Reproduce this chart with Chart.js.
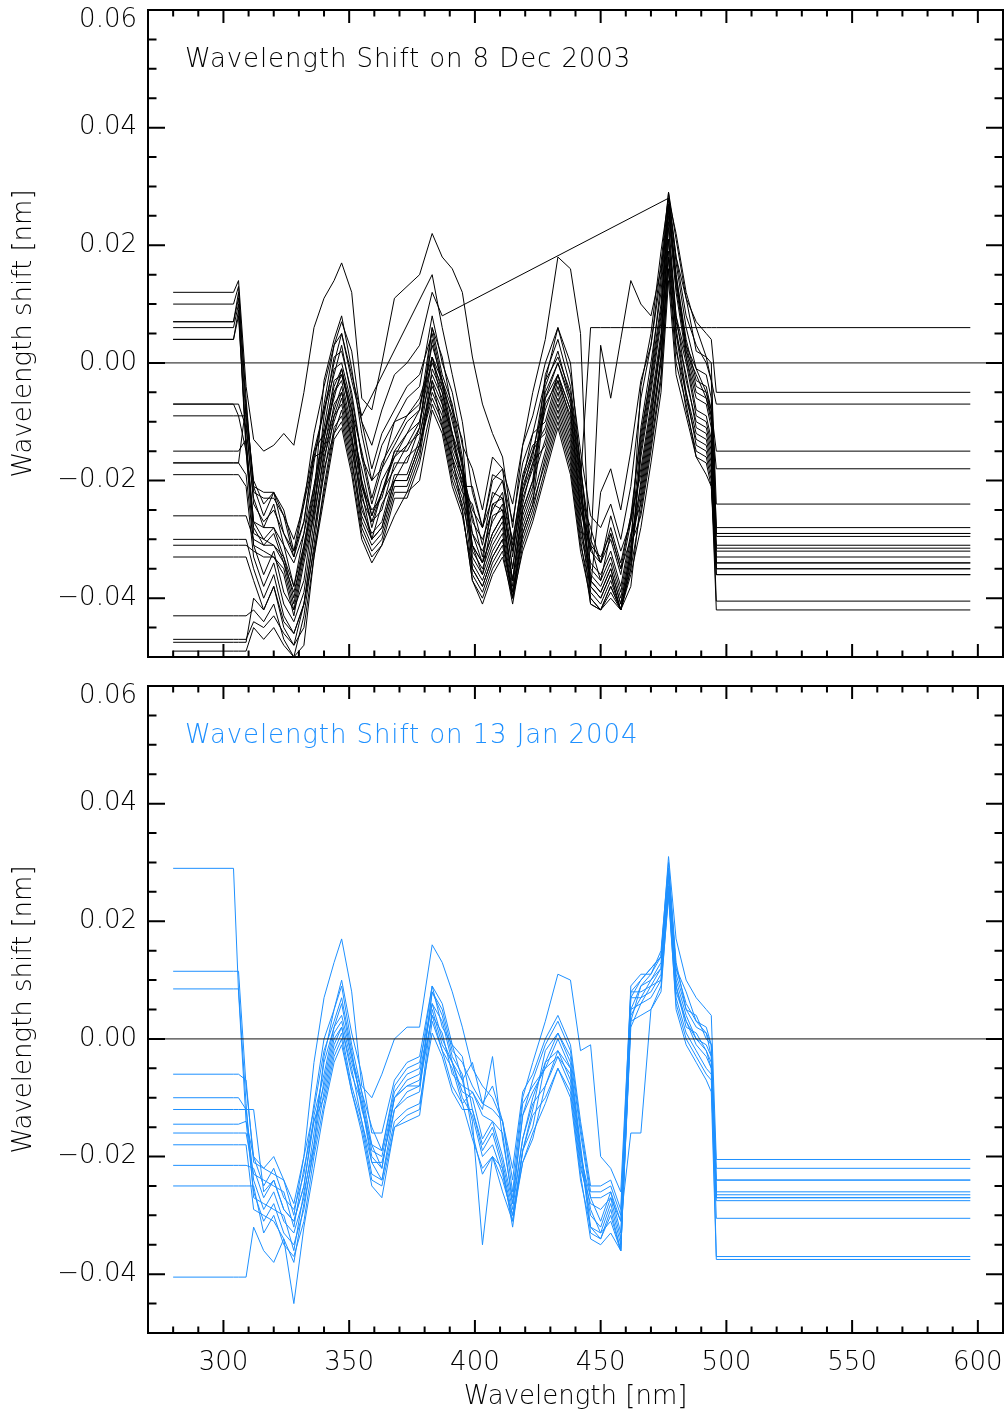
<!DOCTYPE html>
<html lang="en">
  <head>
    <meta charset="UTF-8" />
    <title>Wavelength Shift</title>
    <script src="https://cdn.jsdelivr.net/npm/chart.js"></script>
    <style>
      body { margin: 0; background: #fff; }
      canvas { position: absolute; left: 0; }
      #decChart { top: 0; }
      #janChart { top: 676px; }
    </style>
  </head>
  <body>
    <canvas id="decChart" width="1006" height="667"></canvas>
    <canvas id="janChart" width="1006" height="742"></canvas>
    <script>
      // shifts are in pm (1 pm = 0.001 nm); the axis labels show nm
      const flatStartNm = 280;
      const flatEndNm = 597;
      const rightFlatFromNm = 496;
      const gridNm = [304, 306, 309, 312, 316, 320, 324, 328, 332, 336, 340, 344, 347, 351, 355, 359, 363, 368, 373, 378, 383, 387, 391, 395, 399, 403, 407, 411, 415, 419, 423, 428, 433, 438, 442, 446, 450, 454, 458, 462, 466, 470, 474, 477, 480, 484, 488, 492, 494];

      // 8 Dec 2003 (first value = level of the flat part on the left)
      const decProfiles = [
        [12,14,-4,-13,-15,-14,-12,-14,-5,6,11,14,17,12,-6,-8,0,11,13,15,22,18,16,12,1,-7,-12,-16,-28,-14,-5,4,18,16,5,-38,-22,-18,-25,-15,-3,3,17,29,21,11,7,5,4],
        [10,13,-8,-20,-24,-22,-26,-30,-24,-12,-4,3,7,2,-10,-14,-8,-2,0,3,12,8,null,null,null,null,null,null,null,null,null,null,null,null,null,null,null,null,null,null,null,null,null,28,18,8,3,0,-3],
        [7,11,-10,-24,-27,-25,-29,-33,-27,-16,-8,0,5,-2,-9,null,null,null,null,null,15,6,-2,-10,-22,-28,-20,-18,-32,-20,-12,-3,6,0,-18,-30,-34,-28,-34,-26,-12,-2,14,27,15,3,-1,-5,-8],
        [6,10,-14,-27,-30,-28,-33,-38,-31,-21,-12,-4,-1,-8,-20,-26,-22,-15,-12,-8,3,-3,-10,-17,-29,-34,-24,-23,-35,-22,-15,-6,0,-6,-20,6,6,6,6,6,6,6,6,6,6,6,6,6,6],
        [4,9,-15,-28,-31,-29,-34,-39,-32,-22,-13,-5,-2,-9,-21,-27,-22,-16,-14,-10,1,-5,-12,-19,-31,-36,-26,-25,-37,-24,-17,-8,-2,-8,-25,-32,3,-6,4,14,10,8,16,26,14,2,-2,-6,-9],
        [4,8,-13,-29,-30,-31,-33,-40,-31,-23,-3,4,8,-1,-12,-20,-14,-10,-6,-4,8,0,-5,-14,-18,-25,-16,-18,-24,-14,-9,0,6,-2,-15,-26,-28,-24,-30,-21,-6,3,15,29,18,11,2,1,-3],
        [-7,-7,-11,-23,-28,-24,-31,-34,-29,-17,-7,3,5,-3,-10,-18,-12,-8,-4,-2,5,-3,-8,-17,-27,-30,-25,-22,-33,-21,-16,-3,1,-5,-18,-32,-34,-30,-36,-27,-11,0,12,28,17,6,-1,-2,-6],
        [-7,-9,-15,-31,-32,-33,-35,-42,-33,-25,-9,1,2,-5,-16,-24,-18,-14,-10,-8,6,1,-8,-13,-33,-36,-31,-28,-39,-27,-22,-5,0,-7,-20,-37,-39,-35,-41,-32,-4,5,19,28,22,12,6,1,0],
        [-9,-9,-9,-21,-26,-22,-29,-32,-27,-15,-8,-2,3,-6,-16,-20,-18,-10,-9,-6,1,-7,-12,-21,-21,-28,-19,-20,-27,-17,-12,-10,-2,-10,-23,-28,-34,-26,-32,-27,-18,-7,5,24,8,1,-8,-9,-13],
        [-15,-15,-13,-27,-28,-28,-31,-38,-29,-21,-11,-1,0,-7,-21,-25,-23,-15,-15,-11,4,-4,-9,-18,-31,-34,-29,-26,-37,-25,-20,-2,4,-4,-17,-35,-37,-33,-39,-30,-13,-2,10,27,15,4,-3,-4,-8],
        [-17,-17,-19,-31,-36,-32,-39,-42,-37,-25,-13,-3,-2,-8,-15,-23,-17,-13,-9,-7,0,-4,-13,-19,-25,-28,-23,-20,-31,-19,-14,-12,-4,-12,-25,-31,-37,-29,-35,-30,-21,-10,4,21,5,-2,-11,-12,-16],
        [-17,-17,-7,-21,-22,-22,-25,-32,-23,-15,-12,-6,-1,-10,-23,-27,-25,-17,-17,-11,6,-2,-7,-16,-35,-38,-33,-30,-40,-29,-24,-6,-2,-8,-21,-38,-40,-36,-42,-33,-15,-4,8,26,13,2,-5,-6,-10],
        [-19,-19,-21,-33,-38,-34,-41,-44,-39,-27,-15,-5,-3,-11,-18,-26,-20,-16,-12,-10,-2,-6,-15,-20,-26,-33,-24,-25,-32,-22,-17,-14,-6,-14,-27,-34,-36,-32,-38,-29,-24,-13,1,18,2,-5,-14,-15,-19],
        [-26,-26,-26,-30,-31,-31,-34,-41,-32,-24,-14,-8,-4,-12,-25,-29,-27,-19,-19,-13,1,-3,-12,-17,-32,-35,-30,-27,-38,-26,-21,-4,2,-6,-19,-39,-41,-37,-42,-34,-16,-5,7,25,12,1,-6,-7,-11],
        [-30,-30,-30,-35,-40,-36,-43,-46,-41,-29,-17,-7,-5,-13,-20,-28,-22,-18,-14,-12,-4,-8,-17,-22,-24,-31,-22,-23,-30,-20,-15,-11,-3,-11,-24,-31,-33,-29,-35,-26,-19,-8,4,23,7,0,-9,-10,-14],
        [-31,-31,-31,-32,-33,-33,-36,-43,-34,-26,-16,-10,-6,-14,-27,-31,-29,-21,-21,-15,-1,-5,-14,-19,-34,-37,-32,-29,-40,-28,-23,-15,-7,-15,-28,-36,-38,-34,-40,-31,-26,-15,-3,16,0,-7,-16,-17,-21],
        [-33,-33,-33,-37,-42,-38,-45,-48,-41,-29,-19,-9,-7,-15,-22,-30,-24,-20,-16,-14,-5,-9,-18,-23,-29,-32,-27,-24,-35,-23,-18,-7,-3,-9,-22,-40,-42,-38,-42,-35,-14,-3,9,27,14,3,-4,-5,-9],
        [-43,-43,-43,-42,-44,-41,-47,-50,-43,-31,-18,-12,-8,-16,-28,-32,-30,-22,-22,-16,-3,-7,-16,-21,-36,-39,-34,-31,-40,-30,-25,-16,-8,-16,-29,-37,-39,-35,-41,-32,-22,-11,1,19,6,-5,-12,-13,-17],
        [-47,-47,-47,-44,-45,-43,-46,-48,-45,-33,-21,-11,-9,-17,-26,-30,-28,-20,-20,-14,-6,-10,-19,-24,-31,-34,-29,-26,-37,-25,-20,-13,-5,-13,-26,-41,-42,-39,-42,-36,-28,-17,-5,14,-2,-9,-16,-19,-21],
        [-47.5,-47.5,-47.5,-40,-42,-38,-44,-46,-41,-32,-22,-12,-10,-18,-29,-33,-31,-23,-23,-17,-7,-11,-20,-25,-37,-40,-35,-32,-41,-31,-26,-18,-10,-18,-31,-38,-40,-36,-42,-33,-20,-9,3,21,8,-3,-10,-11,-15],
        [-49,-49,-49,-45,-47,-45,-48,-50,-48,-33,-23,-13,-11,-19,-30,-34,-31,-26,-22,-20,-8,-12,-21,-26,-35,-38,-33,-30,-39,-29,-24,-17,-9,-17,-30,-41,-42,-40,-42,-38,-23,-12,0,18,5,-6,-13,-14,-18],
        [7,12,-6,-22,-23,-23,-26,-33,-24,-16,-15,-9,-5,-13,-24,-30,-28,-20,-20,-14,-3,-11,-16,-25,-37,-41,-36,-33,-40,-32,-27,-19,-11,-19,-32,-40,-42,-38,-42,-35,-25,-14,-2,16,3,-8,-15,-16,-20]
      ];
      const decRightLevels = [-5, -7, -15, 6, -18, -24, -28, -29, -29, -29.5, -31, -31.5, -32, -33, -34, -34, -35, -35, -36, -36, -40.5, -42];

      // 13 Jan 2004
      const janProfiles = [
        [29,8,-14,-20,-22,-20,-24,-28,-20,-4,7,13,17,8,-8,-10,-6,0,2,2,16,13,8,2,-5,-8,-10,-14,-24,-10,-4,3,11,10,-2,-1,-20,-22,-26,8,10,12,14,31,17,10,7,5,4],
        [11.5,11.5,-8,-20,-25,-22,-27,-29,-23,-11,0,5,10,1,-6,-16,-16,-7,-4,-3,9,2,-1,-7,-4,-11,-8,-14,-22,-9,-6,0,4,-1,-14,-25,-25,-24,-29,9,11,11,15,30,13,5,4,0,-1],
        [8.5,8.5,-11,-27,-28,-29,-30,-36,-26,-18,-3,5,9,-1,-9,-18,-19,-9,-6,-5,9,6,-1,-3,-12,-19,-16,-22,-30,-19,-12,-2,1,-3,-16,-27,-31,-26,-33,7,10,12,14,29,12,8,3,2,-1],
        [-6,-6,-7,-21,-22,-23,-24,-30,-20,-12,-2,3,7,-2,-12,-18,-22,-10,-8,-7,4,1,-6,-8,-9,-12,-3,-17,-27,-13,-7,-1,3,-2,-15,-26,-26,-25,-30,8,8,9,12,27,9,2,1,-2,-4],
        [-10,-10,-12,-24,-29,-26,-31,-33,-27,-16,-4,2,6,-3,-9,-15,-19,-8,-5,-4,6,3,-4,-7,-14,-35,-20,-22,-32,-19,-15,-4,-2,-5,-19,-29,-33,-28,-35,5,9,10,13,28,11,5,2,1,-3],
        [-12,-12,-12,-12,-26,-24,-29,-31,-25,-13,-6,2,4,-3,-11,-21,-21,-12,-9,-8,8,5,-2,-4,-8,-11,-12,-14,-26,-11,-8,-5,-3,-6,-20,-27,-27,-26,-31,7,7,8,11,26,8,3,-1,-3,-5],
        [-14.5,-14.5,-14,-26,-31,-28,-33,-35,-29,-18,-7,1,3,-4,-10,-19,-20,-10,-7,-6,6,0,-4,-9,-10,-17,-14,-20,-28,-17,-10,-4,1,-4,-18,-32,-34,-29,-36,4,7,10,12,28,10,4,0,-1,-3],
        [-16,-16,-16,-23,-24,-25,-26,-32,-22,-14,-8,0,2,-5,-14,-21,-24,-12,-10,-9,8,4,-3,-6,-16,-23,-20,-26,-31,-21,-17,-8,-2,-7,-21,-30,-32,-27,-34,5,6,7,10,25,7,1,-2,-5,-6],
        [-18,-18,-18,-29,-30,-31,-34,-38,-28,-19,-9,-1,2,-6,-11,-20,-22,-10,-8,-8,4,-2,-5,-11,-9,-13,-14,-16,-28,-13,-9,-5,0,-5,-19,-33,-34,-30,-36,3,9,11,14,29,12,6,3,1,-1],
        [-21.5,-21.5,-21.5,-22,-27,-24,-29,-31,-25,-14,-10,-2,1,-8,-14,-23,-24,-14,-12,-11,1,-3,-9,-12,-12,-18,-15,-21,-29,-17,-11,-8,-3,-8,-22,-28,-29,-27,-31,-16,-16,5,9,24,6,0,-3,-6,-7],
        [-25,-25,-25,-25,-33,-30,-35,-37,-31,-20,-11,-3,0,-9,-15,-24,-25,-15,-13,-12,5,-1,-4,-10,-13,-20,-18,-23,-31,-19,-13,-10,-5,-9,-23,-34,-35,-33,-36,2,6,9,10,26,9,3,0,-2,-5],
        [-40.5,-40.5,-40.5,-32,-36,-38,-34,-45,-32,-22,-12,-4,-1,-9,-16,-25,-27,-15,-14,-13,3,-2,-8,-11,-17,-22,-20,-24,-30,-21,-16,-11,-5,-10,-24,-32,-33,-31,-36,3,4,5,8,25,5,-1,-4,-7,-9]
      ];
      const janRightLevels = [-20.5, -22, -24, -24, -26, -26.5, -27, -27.5, -27, -30.5, -37, -37.5];

      const FONT = "DejaVu Sans";
      const WEIGHT = "200";
      const BLUE = "#1e90ff";

      function fmt(v) {
        return (v < 0 ? "\u2212" : "") + Math.abs(v / 1000).toFixed(2);
      }

      function series(profile, rightLevel) {
        const pts = [{ x: flatStartNm, y: profile[0] }];
        gridNm.forEach((nm, i) => pts.push({ x: nm, y: profile[i] }));
        pts.push({ x: rightFlatFromNm, y: rightLevel });
        pts.push({ x: flatEndNm, y: rightLevel });
        return pts;
      }

      const frameAndTicks = {
        id: "frameAndTicks",
        afterDraw(chart, args, opts) {
          const { ctx, chartArea: a } = chart;
          const x = chart.scales.x;
          const y = chart.scales.y;
          ctx.save();
          ctx.strokeStyle = "#000";
          ctx.lineWidth = 2;
          ctx.beginPath();
          x.ticks.forEach((t) => {
            const px = x.getPixelForValue(t.value);
            const len = t.value % 50 === 0 ? 13 : 6.5;
            ctx.moveTo(px, a.bottom);
            ctx.lineTo(px, a.bottom - len);
            ctx.moveTo(px, a.top);
            ctx.lineTo(px, a.top + len);
          });
          y.ticks.forEach((t) => {
            const py = y.getPixelForValue(t.value);
            const len = t.value % 20 === 0 ? 17 : 8.5;
            ctx.moveTo(a.left, py);
            ctx.lineTo(a.left + len, py);
            ctx.moveTo(a.right, py);
            ctx.lineTo(a.right - len, py);
          });
          ctx.stroke();
          ctx.strokeRect(a.left, a.top, a.right - a.left, a.bottom - a.top);
          ctx.font = WEIGHT + " 26px '" + FONT + "'";
          ctx.letterSpacing = "0.9px";
          ctx.fillStyle = opts.color;
          ctx.textBaseline = "middle";
          ctx.fillText(opts.text, a.left + 37, a.top + 50);
          ctx.restore();
        },
      };

      function makeChart(id, profiles, rightLevels, color, title, showX) {
        const datasets = [
          {
            data: [{ x: 270, y: 0 }, { x: 610, y: 0 }],
            borderColor: "#111",
            borderWidth: 1,
            pointRadius: 0,
          },
        ];
        profiles.forEach((p, i) => {
          datasets.push({
            data: series(p, rightLevels[i]),
            borderColor: color,
            borderWidth: 1,
            pointRadius: 0,
            spanGaps: true,
          });
        });

        const ctx = document.getElementById(id).getContext("2d");
        return new Chart(ctx, {
          type: "line",
          data: { datasets: datasets },
          plugins: [frameAndTicks],
          options: {
            responsive: false,
            animation: false,
            events: [],
            layout: { padding: { top: 10, right: 3, bottom: 0, left: 0 } },
            plugins: {
              legend: { display: false },
              tooltip: { enabled: false },
              frameAndTicks: { text: title, color: color },
            },
            scales: {
              x: {
                type: "linear",
                min: 270,
                max: 610,
                afterFit: (s) => {
                  s.height = showX ? 85 : 10;
                  s.paddingLeft = 0;
                  s.paddingRight = 0;
                },
                grid: { display: false, drawTicks: false },
                border: { display: false },
                ticks: {
                  display: showX,
                  stepSize: 10,
                  autoSkip: false,
                  maxRotation: 0,
                  padding: 15,
                  color: "#000",
                  font: { family: FONT, size: 26, weight: WEIGHT },
                  callback: (v) => (v % 50 === 0 ? String(v) : ""),
                },
                title: {
                  display: showX,
                  text: "Wavelength [nm]",
                  color: "#000",
                  font: { family: FONT, size: 26, weight: WEIGHT },
                  padding: { top: 0, bottom: 5 },
                },
              },
              y: {
                type: "linear",
                min: -50,
                max: 60,
                afterFit: (s) => {
                  s.width = 148;
                  s.paddingTop = 0;
                  s.paddingBottom = 0;
                },
                grid: { display: false, drawTicks: false },
                border: { display: false },
                ticks: {
                  stepSize: 5,
                  autoSkip: false,
                  padding: 11,
                  color: "#000",
                  font: { family: FONT, size: 26, weight: WEIGHT, lineHeight: 0.8 },
                  callback: (v) => {
                    if (v % 20 !== 0) return "";
                    return v === 60 ? ["", fmt(v)] : fmt(v);
                  },
                },
                title: {
                  display: true,
                  text: "Wavelength shift [nm]",
                  color: "#000",
                  font: { family: FONT, size: 26, weight: WEIGHT },
                  padding: { top: 9, bottom: 0 },
                },
              },
            },
          },
        });
      }

      makeChart("decChart", decProfiles, decRightLevels, "#000", "Wavelength Shift on 8 Dec 2003", false);
      makeChart("janChart", janProfiles, janRightLevels, BLUE, "Wavelength Shift on 13 Jan 2004", true);
    </script>
  </body>
</html>
